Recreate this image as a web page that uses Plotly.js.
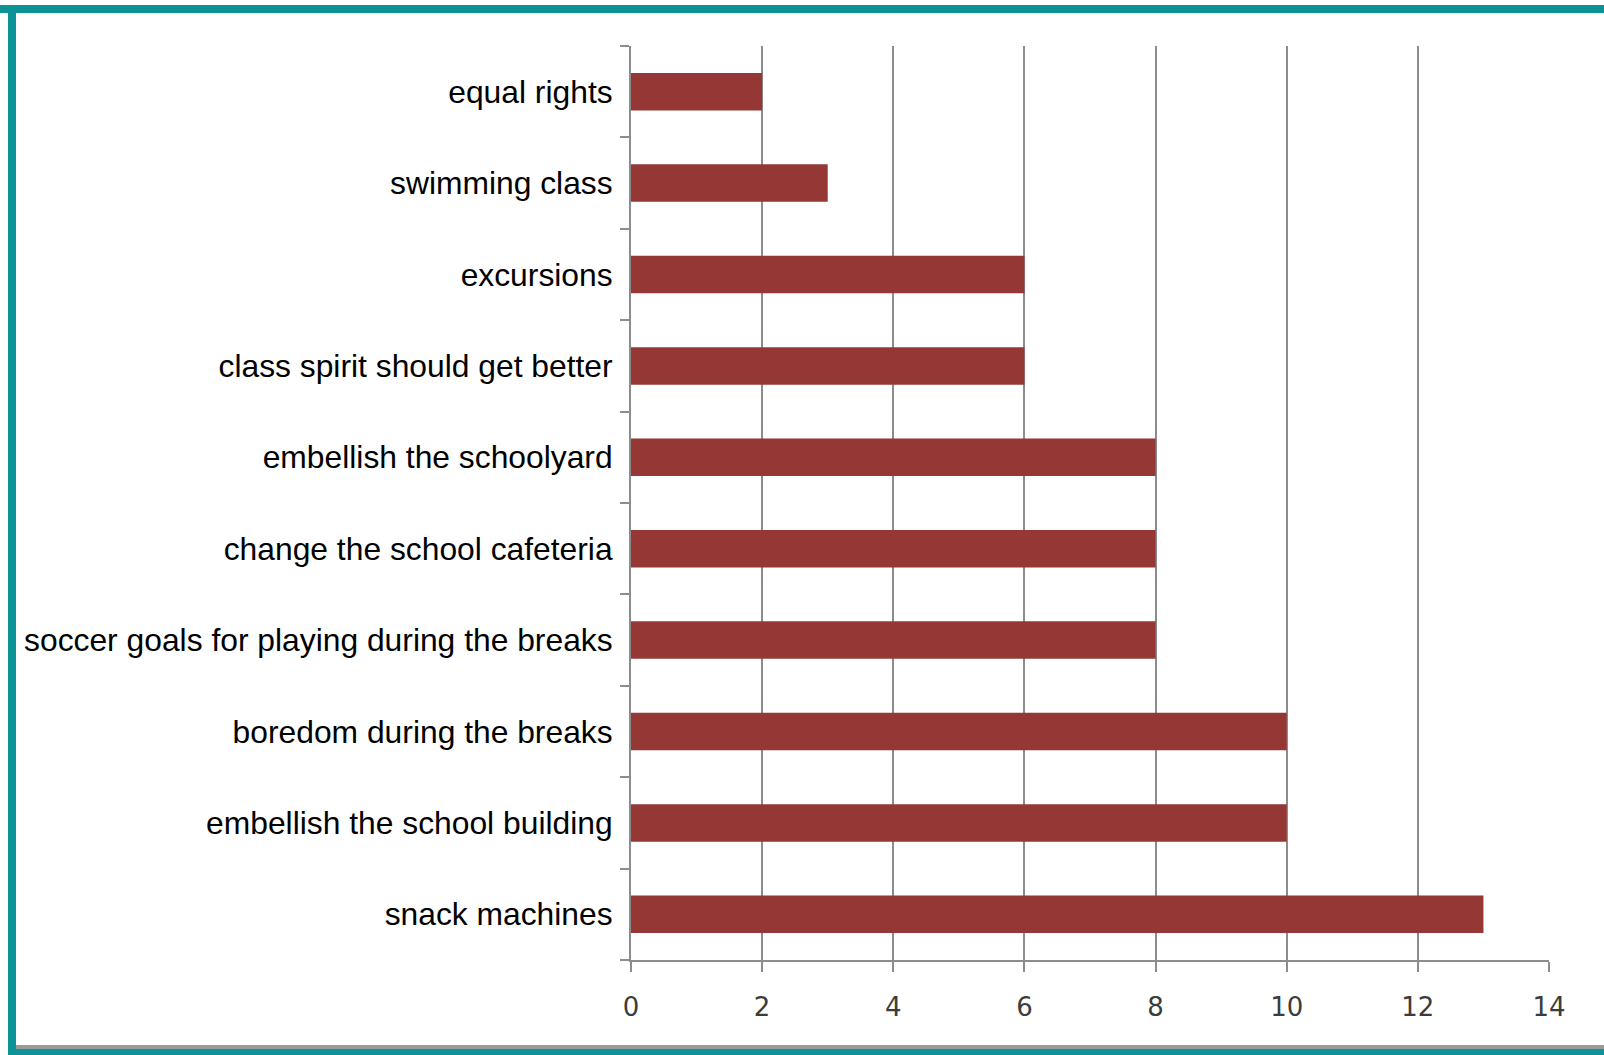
<!DOCTYPE html>
<html>
<head>
<meta charset="utf-8">
<script src="https://cdn.plot.ly/plotly-3.0.1.min.js"></script>
<style>
  html, body { margin: 0; padding: 0; background: #ffffff; }
  #wrap { position: relative; width: 1604px; height: 1055px; overflow: hidden; background: #fff; }
  #chart { position: absolute; left: 0; top: 0; width: 1604px; height: 1055px; }
  .bd { position: absolute; background: #0b9396; }
</style>
</head>
<body>
<div id="wrap">
  <div id="chart"></div>
  <div style="position:absolute;left:8px;top:1045px;width:1596px;height:4px;background:#9a9a9a;"></div>
  <div class="bd" style="left:0;top:5px;width:1604px;height:8px;"></div>
  <div class="bd" style="left:8px;top:5px;width:8px;height:1050px;"></div>
  <div class="bd" style="left:8px;top:1049px;width:1596px;height:6px;"></div>
</div>
<script>
const categories = [
  "snack machines",
  "embellish the school building",
  "boredom during the breaks",
  "soccer goals for playing during the breaks",
  "change the school cafeteria",
  "embellish the schoolyard",
  "class spirit should get better",
  "excursions",
  "swimming class",
  "equal rights"
];
const values = [13, 10, 10, 8, 8, 8, 6, 6, 3, 2];
const xTicks = [0, 2, 4, 6, 8, 10, 12, 14];

const trace = {
  type: "bar",
  orientation: "h",
  y: categories,
  x: values,
  marker: { color: "#953735", line: { width: 0 } },
  hoverinfo: "x+y"
};

const layout = {
  width: 1604,
  height: 1055,
  margin: { l: 631, r: 55, t: 46, b: 95, pad: 0 },
  paper_bgcolor: "rgba(0,0,0,0)",
  plot_bgcolor: "#ffffff",
  bargap: 0.59,
  showlegend: false,
  xaxis: {
    range: [0, 14],
    tickvals: xTicks,
    ticktext: xTicks.map(String),
    showgrid: true,
    gridcolor: "#8c8c8c",
    gridwidth: 2,
    zeroline: false,
    showline: true,
    linecolor: "#8c8c8c",
    linewidth: 2,
    ticks: "outside",
    ticklen: 10,
    tickwidth: 2,
    tickcolor: "#8c8c8c",
    ticklabelstandoff: 13,
    tickfont: { family: "DejaVu Sans, sans-serif", size: 26, color: "#3c3c3c" },
    fixedrange: true
  },
  yaxis: {
    type: "category",
    categoryorder: "array",
    categoryarray: categories,
    tickson: "boundaries",
    showgrid: false,
    zeroline: false,
    showline: true,
    linecolor: "#8c8c8c",
    linewidth: 2,
    ticks: "outside",
    ticklen: 9,
    tickwidth: 2,
    tickcolor: "#8c8c8c",
    ticklabelstandoff: 10,
    tickfont: { family: "Liberation Sans, Arial, sans-serif", size: 31.8, color: "#000000" },
    fixedrange: true
  }
};

Plotly.newPlot("chart", [trace], layout, { displayModeBar: false, staticPlot: true });
</script>
</body>
</html>
